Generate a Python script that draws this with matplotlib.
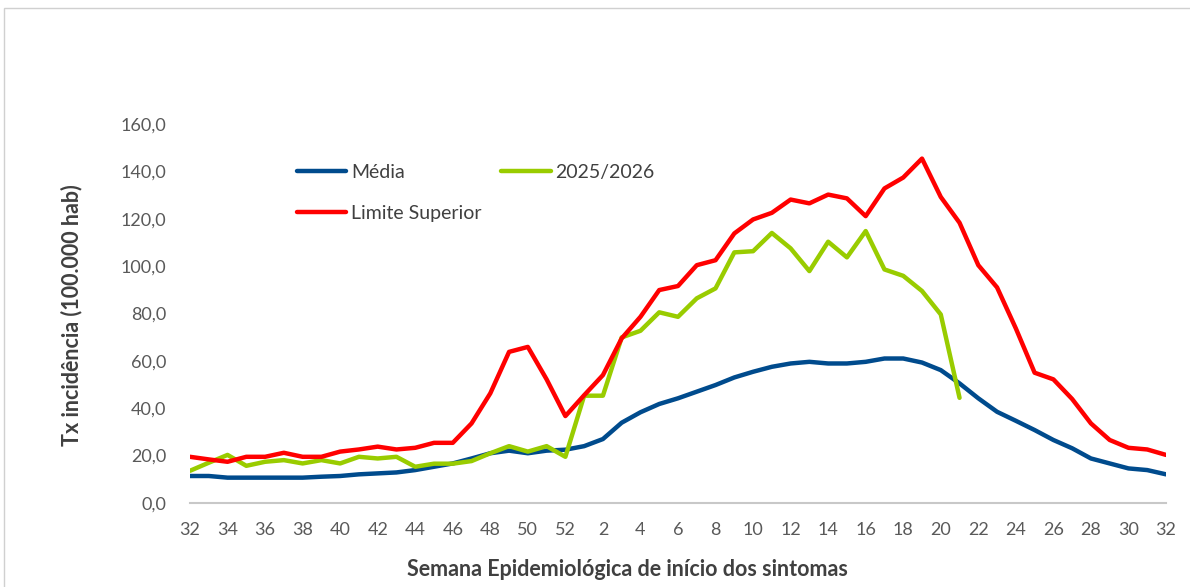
import numpy as np
import matplotlib
matplotlib.use('Agg')
import matplotlib.pyplot as plt
from matplotlib.patches import Rectangle

# ---------- dados ----------
semanas = list(range(32, 53)) + list(range(1, 33))

media = [11.4, 11.4, 10.7, 10.7, 10.7, 10.7, 10.7, 11.1, 11.4, 12.1,
         12.5, 12.9, 13.9, 15.3, 16.7, 18.8, 21.0, 22.1, 21.0, 22.1,
         22.5, 24.0, 27.0, 33.9, 38.3, 41.8, 44.2, 47.0, 49.8, 53.0,
         55.4, 57.5, 58.9, 59.6, 58.9, 58.9, 59.6, 61.0, 61.0, 59.3,
         56.1, 50.5, 44.2, 38.5, 34.7, 30.8, 26.6, 23.1, 18.8, 16.7,
         14.6, 13.9, 12.1]

temporada = [13.6, 17.0, 20.3, 15.7, 17.4, 18.1, 16.7, 18.1, 16.7, 19.5,
             18.8, 19.5, 15.3, 16.6, 16.6, 17.7, 21.0, 24.0, 21.7, 24.0,
             19.5, 45.3, 45.3, 69.9, 72.7, 80.5, 78.6, 86.4, 90.6, 105.8,
             106.3, 114.0, 107.5, 97.9, 110.3, 103.7, 114.8, 98.6, 95.9, 89.5,
             79.6, 44.4] + [np.nan] * 11

limite = [19.5, 18.4, 17.4, 19.5, 19.5, 21.2, 19.5, 19.5, 21.7, 22.6,
          23.8, 22.6, 23.3, 25.4, 25.4, 33.6, 46.3, 63.8, 65.9, 52.2,
          36.7, 45.5, 54.0, 69.5, 78.6, 89.9, 91.6, 100.4, 102.5, 113.8,
          119.7, 122.5, 128.1, 126.5, 130.2, 128.6, 121.1, 132.8, 137.4, 145.4,
          129.2, 118.3, 100.4, 91.0, 73.7, 55.0, 52.2, 43.9, 33.6, 26.6,
          23.3, 22.6, 20.3]

plt.rcParams['font.family'] = ['Lato', 'DejaVu Sans']

W, H = 1190, 587
fig = plt.figure(figsize=(W / 100, H / 100), dpi=100)

# moldura cinza do gráfico
fig.patches.append(Rectangle((4 / W, -0.1), 1.2, 1.1 - 8 / H,
                             transform=fig.transFigure, fill=False,
                             edgecolor='#d0d0d0', lw=1))

ax = fig.add_axes([190 / W, 1 - 503 / H, (1166 - 190) / W, (503 - 124) / H])

x = np.arange(len(semanas))
l_media, = ax.plot(x, media, color='#004B8D', lw=3.2, solid_capstyle='round',
                   label='Média')
l_temp, = ax.plot(x, temporada, color='#99CC00', lw=3.2, solid_capstyle='round',
                  label='2025/2026')
l_lim, = ax.plot(x, limite, color='#FF0000', lw=3.2, solid_capstyle='round',
                 label='Limite Superior')

ax.set_xlim(0, len(semanas) - 1)
ax.set_ylim(0, 160)
ax.set_yticks(np.arange(0, 161, 20))
ax.set_yticklabels([f'{v:.1f}'.replace('.', ',') for v in np.arange(0, 161, 20)])
ax.set_xticks(x[::2])
ax.set_xticklabels([str(s) for s in semanas[::2]])

for s in ['top', 'right', 'left']:
    ax.spines[s].set_visible(False)
ax.spines['bottom'].set_color('#c8c8c8')
ax.spines['bottom'].set_linewidth(1.5)
ax.tick_params(axis='both', length=0, labelsize=13, labelcolor='#595959')
ax.tick_params(axis='y', pad=17)
ax.tick_params(axis='x', pad=14)

fig.text(72 / W, 1 - 315 / H, 'Tx incidência (100.000 hab)', rotation=90,
         ha='center', va='center', fontsize=15.5, fontweight='bold', color='#404040')
fig.text(627 / W, 1 - 570 / H, 'Semana Epidemiológica de início dos sintomas',
         ha='center', va='center', fontsize=15.5, fontweight='bold', color='#404040')

leg = fig.legend(handles=[l_media, l_lim, l_temp], ncol=2, frameon=False,
                 loc='upper left', bbox_to_anchor=(287 / W, 1 - 154 / H),
                 borderpad=0, fontsize=14, handlelength=2.55, handletextpad=0.25,
                 columnspacing=1.0, labelspacing=1.25, labelcolor='#404040')

fig.savefig('out.png', dpi=100)
